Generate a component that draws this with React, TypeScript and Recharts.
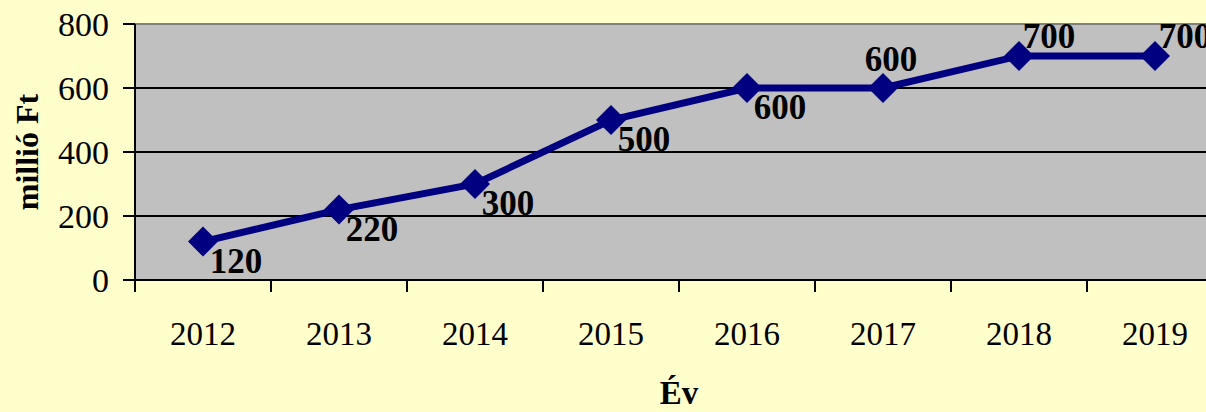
import { CartesianGrid, Label, Line, LineChart, XAxis, YAxis } from "recharts";

// Yearly values (millió Ft)
const years = ["2012", "2013", "2014", "2015", "2016", "2017", "2018", "2019"];
const values = [120, 220, 300, 500, 600, 600, 700, 700];
const yTicks = [0, 200, 400, 600, 800];

const data = years.map((year, i) => ({ year, value: values[i] }));

const FONT = "'Liberation Serif', 'Times New Roman', serif";
const CHART_W = 1240;
const CHART_H = 412;
const MARGIN = { top: 24, right: 17, bottom: 0, left: 0 };
const Y_AXIS_W = 135;
const X_AXIS_H = 132;
const PLOT_BOTTOM = CHART_H - MARGIN.bottom - X_AXIS_H;
const BAND = (CHART_W - MARGIN.right - Y_AXIS_W) / years.length;

function YearTick(props: any) {
  const { x, payload } = props;
  return (
    <g>
      <line
        x1={x - BAND / 2}
        x2={x - BAND / 2}
        y1={PLOT_BOTTOM}
        y2={PLOT_BOTTOM + 12}
        stroke="#000"
        strokeWidth={2}
      />
      <text
        x={x}
        y={PLOT_BOTTOM + 65}
        textAnchor="middle"
        fontSize={33}
        fontFamily={FONT}
        fill="#000"
      >
        {payload.value}
      </text>
    </g>
  );
}

function Diamond(props: any) {
  const { cx, cy, index } = props;
  if (cx == null || cy == null) return null;
  return (
    <polygon
      key={`d-${index}`}
      points={`${cx},${cy - 15} ${cx + 15},${cy} ${cx},${cy + 15} ${cx - 15},${cy}`}
      fill="#000080"
    />
  );
}

function ValueLabel(props: any) {
  const { x, y, value, index } = props;
  // Excel put the later labels above the line, the earlier ones below it
  const above = index >= 5;
  const dx = index === 5 ? 8 : above ? 30 : 33;
  const dy = index === 5 ? -17 : above ? -8 : 31;
  return (
    <text
      key={`l-${index}`}
      x={x + dx}
      y={y + dy}
      textAnchor="middle"
      fontSize={35}
      fontWeight="bold"
      fontFamily={FONT}
      fill="#000"
    >
      {value}
    </text>
  );
}

function GridLine(props: any) {
  const { x1, x2, y1, y2, index } = props;
  const isTop = y1 <= MARGIN.top + 1;
  return (
    <line
      key={`g-${index}`}
      x1={x1}
      x2={x2}
      y1={y1}
      y2={y2}
      stroke={isTop ? "#808080" : "#000"}
      strokeWidth={2}
    />
  );
}

export default function App() {
  return (
    <div
      style={{
        position: "fixed",
        left: 0,
        top: 0,
        width: 1206,
        height: 412,
        overflow: "hidden",
        background: "#FFFFCC",
      }}
    >
      <LineChart width={CHART_W} height={CHART_H} data={data} margin={MARGIN}>
        <CartesianGrid
          vertical={false}
          horizontal={GridLine}
          fill="#C0C0C0"
          fillOpacity={1}
        />
        <XAxis
          dataKey="year"
          scale="band"
          height={X_AXIS_H}
          axisLine={{ stroke: "#000", strokeWidth: 2 }}
          tickLine={false}
          tick={YearTick}
          interval={0}
        >
          <Label
            value="Év"
            position="insideBottom"
            offset={8}
            fontSize={33}
            fontWeight="bold"
            fontFamily={FONT}
            fill="#000"
          />
        </XAxis>
        <YAxis
          type="number"
          domain={[0, 800]}
          ticks={yTicks}
          width={Y_AXIS_W}
          tickSize={12}
          tickMargin={14}
          axisLine={{ stroke: "#000", strokeWidth: 2 }}
          tickLine={{ stroke: "#000", strokeWidth: 2 }}
          tick={{ fontSize: 34, fontFamily: FONT, fill: "#000" }}
        >
          <Label
            content={(p: any) => {
              const vb = p.viewBox || {};
              const cy = (vb.y ?? 0) + (vb.height ?? 0) / 2;
              return (
                <text
                  x={27}
                  y={cy}
                  transform={`rotate(-90, 27, ${cy})`}
                  textAnchor="middle"
                  dominantBaseline="central"
                  fontSize={32}
                  fontWeight="bold"
                  fontFamily={FONT}
                  fill="#000"
                >
                  millió Ft
                </text>
              );
            }}
          />
        </YAxis>
        <Line
          type="linear"
          dataKey="value"
          stroke="#000080"
          strokeWidth={7}
          dot={Diamond}
          activeDot={false}
          label={ValueLabel}
          isAnimationActive={false}
        />
      </LineChart>
    </div>
  );
}
